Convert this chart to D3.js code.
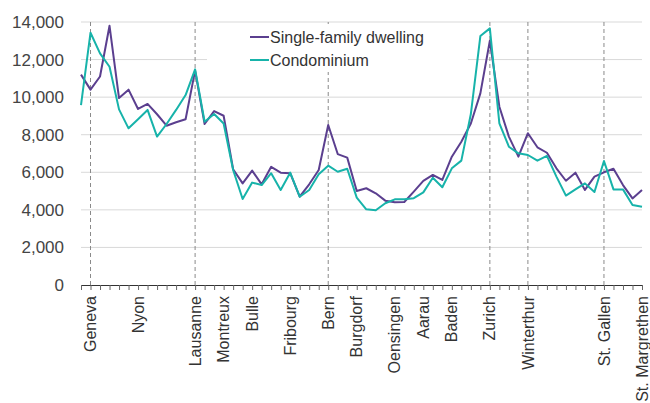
<!DOCTYPE html>
<html><head><meta charset="utf-8">
<script src="https://cdn.jsdelivr.net/npm/d3@7"></script>
<style>body{margin:0;background:#fff}svg{display:block}</style>
</head><body>
<svg id="c" width="650" height="403"></svg>
<script>
const singleFamily = [11200,10400,11100,13800,9950,10400,9370,9640,9090,8480,8660,8820,11410,8570,9260,9010,6160,5410,6090,5360,6290,5980,5950,4700,5360,6120,8520,6970,6780,5000,5150,4880,4490,4400,4420,4970,5540,5860,5590,6830,7630,8600,10200,13000,9490,7900,6830,8080,7330,7040,6210,5550,5980,5060,5770,6000,6190,5320,4610,5060];
const condominium = [9580,13430,12330,11620,9350,8340,8820,9320,7900,8570,9320,10110,11480,8690,9100,8600,6120,4580,5450,5320,5950,5060,5980,4700,5060,5890,6350,6030,6190,4650,4030,3980,4350,4560,4560,4620,4930,5710,5200,6210,6620,9100,13250,13660,8600,7360,7010,6920,6620,6870,5770,4760,5090,5410,4950,6600,5090,5090,4260,4170];
const labelIndex = [1,6,12,15,18,22,26,29,33,36,39,43,47,55,59];
const labelText = ["Geneva","Nyon","Lausanne","Montreux","Bulle","Fribourg","Bern","Burgdorf","Oensingen","Aarau","Baden","Zurich","Winterthur","St. Gallen","St. Margrethen"];
const dashedIndex = [1,12,26,43,47,55];
const yTicks = [0,2000,4000,6000,8000,10000,12000,14000];
const seriesNames = ["Single-family dwelling","Condominium"];
const colors = ["#5b3f8f","#17b3aa"];

const svg = d3.select("#c");
const font = "'Liberation Sans', Arial, sans-serif";
const idx = d3.range(singleFamily.length);
const x = d3.scalePoint().domain(idx).range([81, 642]);
const y = d3.scaleLinear().domain([0, 14000]).range([285, 22]);

// gridlines
svg.append("g").selectAll("line").data(yTicks.filter(d=>d>0)).join("line")
  .attr("x1", 81).attr("x2", 642).attr("y1", d=>y(d)).attr("y2", d=>y(d))
  .attr("stroke", "#d9d9d9").attr("stroke-width", 1);

// y labels
svg.append("g").selectAll("text").data(yTicks).join("text")
  .attr("x", 64).attr("y", d=>y(d)).attr("dy","0.35em")
  .attr("text-anchor","end").attr("font-family", font).attr("font-size", 17)
  .attr("fill","#444").text(d=>d3.format(",")(d));

// dashed lines
svg.append("g").selectAll("line").data(dashedIndex).join("line")
  .attr("x1", d=>x(d)).attr("x2", d=>x(d)).attr("y1", y(14000)).attr("y2", y(0))
  .attr("stroke","#8a8a8a").attr("stroke-width",1).attr("stroke-dasharray","4,3");

// legend background
svg.append("rect").attr("x",207).attr("y",24).attr("width",261).attr("height",48).attr("fill","#fff");

// x axis
const xAxis = d3.axisBottom(x).tickSize(5).tickFormat("");
const gx = svg.append("g").attr("transform", `translate(0,${y(0)})`).call(xAxis);
gx.select(".domain").attr("stroke","#333").attr("stroke-width",1.2).attr("d","M81,0.5H642");
gx.selectAll(".tick line").attr("stroke","#666");

svg.append("g").selectAll("text").data(labelIndex).join("text")
  .attr("transform", d=>`translate(${x(d)},296) rotate(-90)`)
  .attr("dy","0.35em").attr("text-anchor","end")
  .attr("font-family", font).attr("font-size", 16).attr("fill","#333")
  .text((d,i)=>labelText[i]);

// lines
const line = d3.line().x((d,i)=>x(i)).y(d=>y(d));
[singleFamily, condominium].forEach((s,k)=>{
  svg.append("path").datum(s).attr("d", line).attr("fill","none")
    .attr("stroke", colors[k]).attr("stroke-width", 2).attr("stroke-linejoin","round");
});
// redraw single family on top? keep order: purple then teal
// legend
const lg = svg.append("g");
seriesNames.forEach((n,k)=>{
  const yy = 37 + k*23;
  lg.append("line").attr("x1",250).attr("x2",269).attr("y1",yy).attr("y2",yy)
    .attr("stroke",colors[k]).attr("stroke-width",2);
  lg.append("text").attr("x",270).attr("y",yy).attr("dy","0.35em")
    .attr("font-family",font).attr("font-size",16).attr("fill","#333").text(n);
});
</script>
</body></html>
